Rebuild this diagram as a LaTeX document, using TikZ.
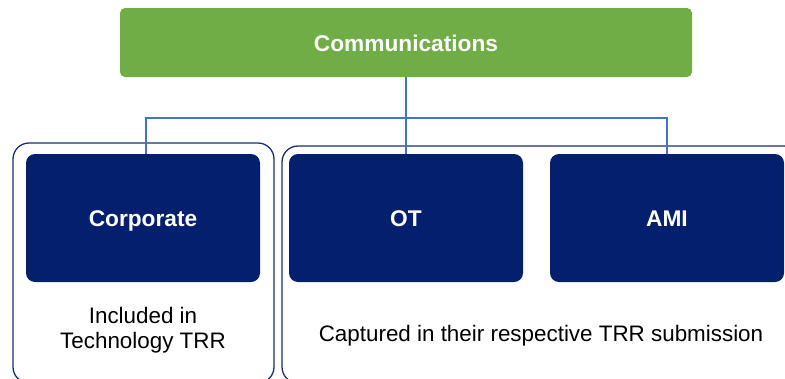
\documentclass[tikz,border=0pt]{standalone}
\usepackage{fontspec}
\setmainfont{Liberation Sans}
\definecolor{cgreen}{HTML}{70AD47}
\definecolor{cnavy}{HTML}{051F6F}
\definecolor{cline}{HTML}{4472C4}
\definecolor{cframe}{HTML}{1A2F6B}
\begin{document}
\begin{tikzpicture}[x=1pt,y=-1pt,
  topbox/.style={fill=cgreen,draw=none,rounded corners=5pt},
  subbox/.style={fill=cnavy,draw=none,rounded corners=9pt},
  lbl/.style={text=white,font=\fontsize{22.7}{26}\selectfont\bfseries,anchor=base},
  frame/.style={draw=cframe,line width=1.3pt,rounded corners=16pt},
  conn/.style={draw=cline,line width=1.1pt},
  note/.style={font=\fontsize{22.4}{25}\selectfont,text=black,align=center}]
\useasboundingbox (0,0) rectangle (785,378);
\begin{scope}
\clip (0,0) rectangle (785,378);
% frames
\draw[frame] (13,143) rectangle (274,383);
\draw[frame] (282,146) rectangle (800,383);
\end{scope}
% boxes
\path[topbox] (120,8) rectangle (692,77);
\node[lbl] (comm) at (406,51) {Communications};
\coordinate (commb) at (406,77);
\path[subbox] (26,154) rectangle (260,282);
\path[subbox] (289,154) rectangle (523,282);
\path[subbox] (550,154) rectangle (784,282);
\node[lbl] (corp) at (143,226) {Corporate};
\node[lbl] (ot) at (406,226) {OT};
\node[lbl] (ami) at (667,226) {AMI};
\coordinate (corpt) at (146,154);
\coordinate (ott) at (406,154);
\coordinate (amit) at (667,154);
% connectors
\draw[conn] (commb) -- (ott);
\draw[conn] (corpt) |- (406,118) -| (amit);
% notes
\node[note] (n1) at (143,330) {Included in\\Technology TRR};
\node[note,anchor=base] (n2) at (541,341) {Captured in their respective TRR submission};
\end{tikzpicture}
\end{document}
